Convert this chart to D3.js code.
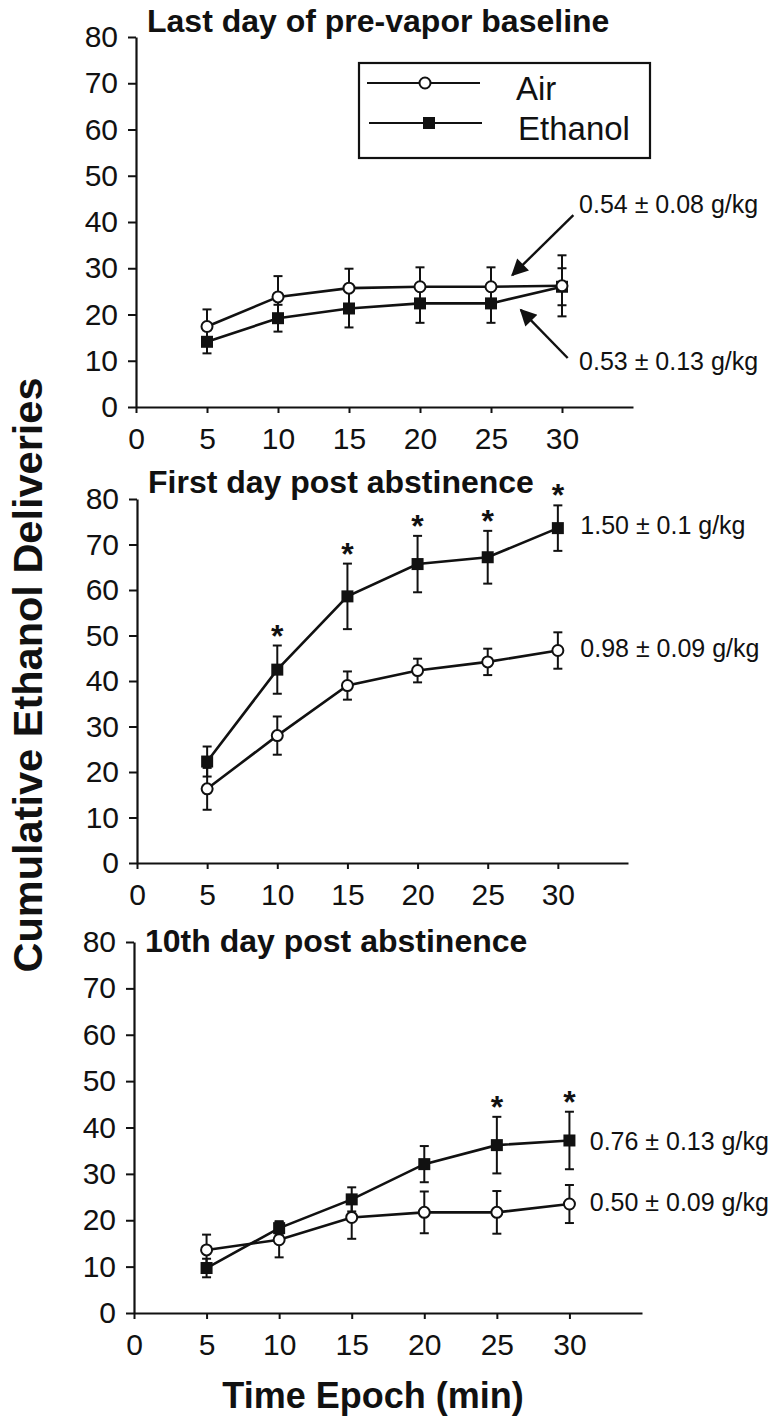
<!DOCTYPE html>
<html>
<head>
<meta charset="utf-8">
<script src="https://cdn.jsdelivr.net/npm/d3@7"></script>
<style>
  body { margin: 0; background: #fff; }
  svg { font-family: "Liberation Sans", Arial, Helvetica, sans-serif; }
</style>
</head>
<body>
<div id="chart"></div>
<script>
var width = 769
var height = 1418

// values
const epochs = [5, 10, 15, 20, 25, 30];
const xTicks = [0, 5, 10, 15, 20, 25, 30];
const yTicks = [0, 10, 20, 30, 40, 50, 60, 70, 80];

const baseAir = [17.4, 23.8, 25.7, 26.0, 26.0, 26.2];
const baseAirErr = [3.7, 4.5, 4.2, 4.2, 4.2, 6.6];
const baseEth = [14.1, 19.2, 21.3, 22.4, 22.4, 26.0];
const baseEthErr = [2.5, 2.9, 4.1, 4.2, 4.2, 4.0];

const firstAir = [16.3, 28.0, 39.0, 42.3, 44.2, 46.7];
const firstAirErr = [4.6, 4.2, 3.1, 2.6, 2.9, 4.0];
const firstEth = [22.3, 42.5, 58.6, 65.7, 67.2, 73.6];
const firstEthErr = [3.3, 5.3, 7.2, 6.2, 5.8, 5.0];
const firstStars = [false, true, true, true, true, true];

const tenthAir = [13.6, 15.8, 20.6, 21.7, 21.7, 23.5];
const tenthAirErr = [3.3, 3.8, 4.6, 4.5, 4.6, 4.1];
const tenthEth = [9.7, 18.3, 24.5, 32.1, 36.2, 37.2];
const tenthEthErr = [2.0, 1.5, 2.6, 3.9, 6.1, 6.2];
const tenthStars = [false, false, false, false, true, true];

const titles = ["Last day of pre-vapor baseline", "First day post abstinence", "10th day post abstinence"];
const doseLabels = [
  ["0.54 \u00b1 0.08 g/kg", "0.53 \u00b1 0.13 g/kg"],
  ["1.50 \u00b1 0.1 g/kg", "0.98 \u00b1 0.09 g/kg"],
  ["0.76 \u00b1 0.13 g/kg", "0.50 \u00b1 0.09 g/kg"]
];

const panels = [
  {left: 136, right: 633, top: 37, bottom: 407, titleY: 32,
   air: baseAir, airErr: baseAirErr, eth: baseEth, ethErr: baseEthErr, stars: null,
   labels: [[31.2, 41.9], [31.2, 8.0]],
   arrows: [[[30.8, 41.5], [26.5, 28.5]], [[30.4, 10.6], [27.1, 21.0]]]},
  {left: 137, right: 628, top: 499, bottom: 863, titleY: 493,
   air: firstAir, airErr: firstAirErr, eth: firstEth, ethErr: firstEthErr, stars: firstStars,
   labels: [[31.6, 72.3], [31.6, 45.3]], arrows: []},
  {left: 134, right: 642, top: 942, bottom: 1313, titleY: 952,
   air: tenthAir, airErr: tenthAirErr, eth: tenthEth, ethErr: tenthEthErr, stars: tenthStars,
   labels: [[31.4, 35.2], [31.4, 21.9]], arrows: []}
];

var svg = d3.select("#chart")
  .append("svg")
    .attr("width", width)
    .attr("height", height)

svg.append("defs").append("marker")
    .attr("id", "arrowhead")
    .attr("viewBox", "0 0 10 10")
    .attr("refX", 9)
    .attr("refY", 5)
    .attr("markerWidth", 9)
    .attr("markerHeight", 7)
    .attr("markerUnits", "strokeWidth")
    .attr("orient", "auto")
  .append("path")
    .attr("d", "M0,0 L10,5 L0,10 Z")
    .attr("fill", "#111");

const drawPanel = (p, i) => {
  const xScale = d3.scaleLinear().domain([0, 35]).range([p.left, p.right]);
  const yScale = d3.scaleLinear().domain([0, 80]).range([p.bottom, p.top]);
  const g = svg.append("g");

  const xAxis = g.append("g")
    .attr("transform", `translate(0,${p.bottom})`)
    .call(d3.axisBottom(xScale).tickValues(xTicks).tickSize(6).tickSizeOuter(0).tickPadding(15));
  const yAxis = g.append("g")
    .attr("transform", `translate(${p.left},0)`)
    .call(d3.axisLeft(yScale).tickValues(yTicks).tickSize(8).tickSizeOuter(0).tickPadding(10));

  [xAxis, yAxis].forEach(ax => {
    ax.attr("font-size", null).attr("font-family", null);
    ax.select(".domain").attr("stroke", "#111").attr("stroke-width", 2.2);
    ax.selectAll(".tick line").attr("stroke", "#111").attr("stroke-width", 2);
    ax.selectAll(".tick text")
      .style("font-size", "30px")
      .style("font-family", "'Liberation Sans', Arial, sans-serif")
      .attr("fill", "#111");
  });

  g.append("text")
    .attr("x", p.left + 11)
    .attr("y", p.titleY)
    .attr("font-size", 32)
    .attr("font-weight", "bold")
    .attr("fill", "#111")
    .text(titles[i]);

  const line = d3.line().x((d, j) => xScale(epochs[j])).y(d => yScale(d));

  const drawSeries = (vals, errs) => {
    g.append("path")
      .datum(vals)
      .attr("d", line)
      .attr("fill", "none")
      .attr("stroke", "#111")
      .attr("stroke-width", 2.6);

    const eb = g.append("g").selectAll("g").data(vals).enter().append("g")
      .attr("stroke", "#111").attr("stroke-width", 2);
    eb.append("line")
      .attr("x1", (d, j) => xScale(epochs[j])).attr("x2", (d, j) => xScale(epochs[j]))
      .attr("y1", (d, j) => yScale(d - errs[j])).attr("y2", (d, j) => yScale(d + errs[j]));
    [-1, 1].forEach(s => {
      eb.append("line")
        .attr("x1", (d, j) => xScale(epochs[j]) - 4.5).attr("x2", (d, j) => xScale(epochs[j]) + 4.5)
        .attr("y1", (d, j) => yScale(d + s * errs[j])).attr("y2", (d, j) => yScale(d + s * errs[j]));
    });
  };

  drawSeries(p.eth, p.ethErr);
  drawSeries(p.air, p.airErr);

  g.append("g").selectAll("rect").data(p.eth).enter().append("rect")
    .attr("x", (d, j) => xScale(epochs[j]) - 6)
    .attr("y", d => yScale(d) - 6)
    .attr("width", 12)
    .attr("height", 12)
    .attr("fill", "#111");

  g.append("g").selectAll("circle").data(p.air).enter().append("circle")
    .attr("cx", (d, j) => xScale(epochs[j]))
    .attr("cy", d => yScale(d))
    .attr("r", 5.5)
    .attr("fill", "#fff")
    .attr("stroke", "#111")
    .attr("stroke-width", 2);

  if (p.stars) {
    const starred = epochs
      .map((e, j) => ({x: e, top: p.eth[j] + p.ethErr[j], on: p.stars[j]}))
      .filter(d => d.on);
    g.append("g").selectAll("text").data(starred).enter().append("text")
      .attr("x", d => xScale(d.x))
      .attr("y", d => yScale(d.top) + 1)
      .attr("text-anchor", "middle")
      .attr("font-size", 32)
      .attr("font-weight", "bold")
      .attr("fill", "#111")
      .text("*");
  }

  p.labels.forEach((pos, k) => {
    g.append("text")
      .attr("x", xScale(pos[0]))
      .attr("y", yScale(pos[1]))
      .attr("font-size", 25)
      .attr("fill", "#111")
      .text(doseLabels[i][k]);
  });

  p.arrows.forEach(a => {
    g.append("line")
      .attr("x1", xScale(a[0][0])).attr("y1", yScale(a[0][1]))
      .attr("x2", xScale(a[1][0])).attr("y2", yScale(a[1][1]))
      .attr("stroke", "#111")
      .attr("stroke-width", 2.4)
      .attr("marker-end", "url(#arrowhead)");
  });
};

panels.forEach(drawPanel);

// legend in the top panel
const legend = svg.append("g");
legend.append("rect")
  .attr("x", 359).attr("y", 63).attr("width", 291).attr("height", 95)
  .attr("fill", "#fff").attr("stroke", "#111").attr("stroke-width", 2.2);
const legendItems = ["Air", "Ethanol"];
legendItems.forEach((name, k) => {
  const ly = 83 + k * 40;
  legend.append("line")
    .attr("x1", 367 + k * 2).attr("x2", 480 + k * 2).attr("y1", ly).attr("y2", ly)
    .attr("stroke", "#111").attr("stroke-width", 2);
  if (k === 0) {
    legend.append("circle").attr("cx", 425).attr("cy", ly).attr("r", 5.5)
      .attr("fill", "#fff").attr("stroke", "#111").attr("stroke-width", 2);
  } else {
    legend.append("rect").attr("x", 423).attr("y", ly - 6).attr("width", 12).attr("height", 12)
      .attr("fill", "#111");
  }
  legend.append("text")
    .attr("x", 516 + k * 2).attr("y", ly + 17)
    .attr("font-size", 33)
    .attr("fill", "#111")
    .text(name);
});

// shared axis titles
svg.append("text")
  .attr("transform", "translate(42,675) rotate(-90)")
  .attr("text-anchor", "middle")
  .attr("font-size", 41.5)
  .attr("font-weight", "bold")
  .attr("fill", "#111")
  .text("Cumulative Ethanol Deliveries");

svg.append("text")
  .attr("x", 373)
  .attr("y", 1408)
  .attr("text-anchor", "middle")
  .attr("font-size", 36)
  .attr("font-weight", "bold")
  .attr("fill", "#111")
  .text("Time Epoch (min)");
</script>
</body>
</html>
